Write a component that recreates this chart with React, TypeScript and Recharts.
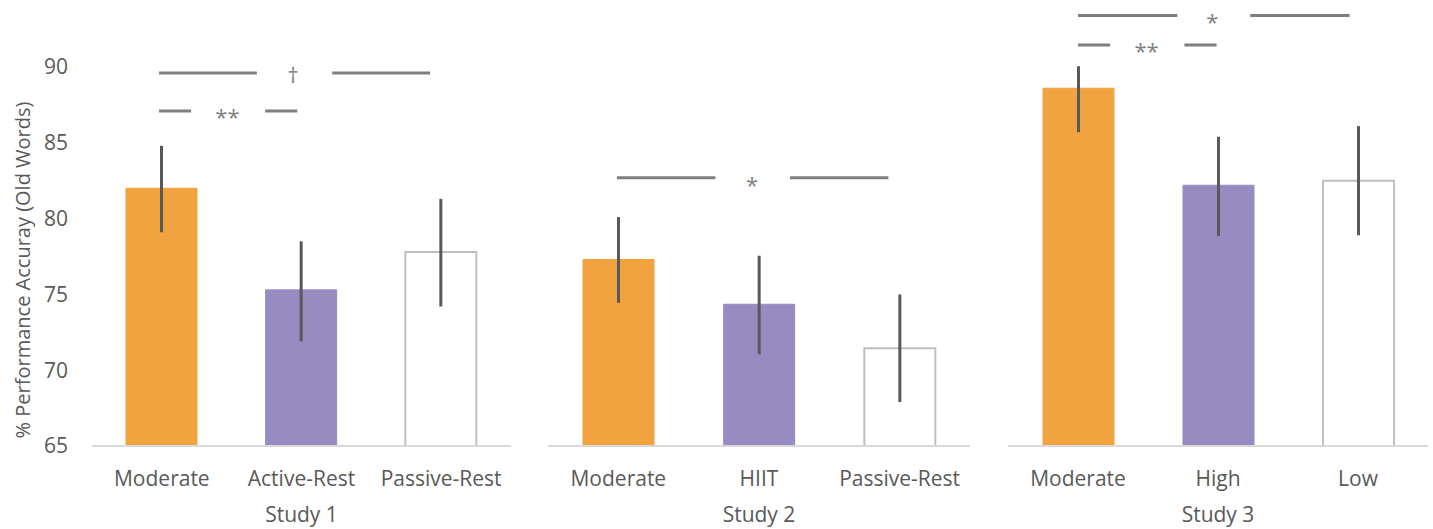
import { ComposedChart, Bar, Cell, ErrorBar, XAxis, YAxis, ReferenceLine, ReferenceDot } from "recharts";

// accuracy values
const studyNames = ["Study 1", "Study 2", "Study 3"];

const study1Conditions = ["Moderate", "Active-Rest", "Passive-Rest"];
const study1Means = [82.0, 75.3, 77.8];
const study1Upper = [84.8, 78.5, 81.3];
const study1Lower = [79.1, 71.9, 74.2];

const study2Conditions = ["Moderate", "HIIT", "Passive-Rest"];
const study2Means = [77.3, 74.35, 71.45];
const study2Upper = [80.1, 77.55, 75.0];
const study2Lower = [74.45, 71.05, 67.9];

const study3Conditions = ["Moderate", "High", "Low"];
const study3Means = [88.6, 82.2, 82.5];
const study3Upper = [90.05, 85.4, 86.1];
const study3Lower = [85.7, 78.85, 78.9];

const yTicks = [65, 70, 75, 80, 85, 90];

// significance brackets: x in category units (0..3), y in accuracy units
type Bracket = { y: number; segments: number[][]; mark: string; markX: number };
const study1Brackets: Bracket[] = [
  { y: 89.6, segments: [[0.48, 1.18], [1.72, 2.42]], mark: "†", markX: 1.44 },
  { y: 87.1, segments: [[0.48, 0.71], [1.24, 1.47]], mark: "**", markX: 0.97 },
];
const study2Brackets: Bracket[] = [
  { y: 82.7, segments: [[0.49, 1.19], [1.72, 2.42]], mark: "*", markX: 1.45 },
];
const study3Brackets: Bracket[] = [
  { y: 93.4, segments: [[0.5, 1.21], [1.73, 2.44]], mark: "*", markX: 1.46 },
  { y: 91.45, segments: [[0.5, 0.73], [1.26, 1.49]], mark: "**", markX: 0.99 },
];

const FILLS = ["#F0A33F", "#988BC1", "#FFFFFF"];
const STROKES = ["#F0A33F", "#988BC1", "#BFBFBF"];
const TEXT = "#595959";
const FONT = "'Open Sans', sans-serif";
const markOffset: Record<string, number> = { "*": 15, "**": 14, "†": 10 };

function buildRows(conditions: string[], means: number[], upper: number[], lower: number[]) {
  return conditions.map((c, i) => ({
    condition: c,
    slot: i + 0.5,
    mean: means[i],
    err: [means[i] - lower[i], upper[i] - means[i]],
  }));
}

interface PanelProps {
  title: string;
  rows: { condition: string; slot: number; mean: number; err: number[] }[];
  brackets: Bracket[];
  left: number;
  width: number;
  showAxis?: boolean;
  marginRight?: number;
}

function Panel({ title, rows, brackets, left, width, showAxis = false, marginRight = 0 }: PanelProps) {
  return (
    <div style={{ position: "absolute", left, top: 0 }}>
      <ComposedChart width={width} height={529} data={rows} margin={{ top: 67, right: marginRight, bottom: 0, left: 0 }}>
        <XAxis
          xAxisId="cat"
          dataKey="condition"
          height={83}
          axisLine={{ stroke: "#D9D9D9", strokeWidth: 2 }}
          tickLine={false}
          tickMargin={19}
          tick={{ fill: TEXT, fontSize: 21, fontFamily: FONT }}
          interval={0}
          label={{ value: title, position: "insideBottom", offset: 7, fill: TEXT, fontSize: 21, fontFamily: FONT }}
        />
        <XAxis xAxisId="pos" dataKey="slot" type="number" scale="linear" domain={[0, 3]} allowDataOverflow hide />
        <YAxis
          hide={!showAxis}
          width={92}
          domain={[65, 90]}
          ticks={yTicks}
          allowDataOverflow
          axisLine={false}
          tickLine={false}
          tickMargin={18}
          tick={{ fill: TEXT, fontSize: 21, fontFamily: FONT }}
          label={{
            value: "% Performance Accuray (Old Words)",
            content: () => (
              <text x={22} y={270} transform="rotate(-90 22 270)" textAnchor="middle" dominantBaseline="central" fill={TEXT} fontSize={20} fontFamily={FONT}>
                % Performance Accuray (Old Words)
              </text>
            ),
          }}
        />
        <Bar xAxisId="cat" dataKey="mean" barSize={71} isAnimationActive={false}>
          {rows.map((r, i) => (
            <Cell key={r.condition} fill={FILLS[i]} stroke={STROKES[i]} strokeWidth={i === 2 ? 2 : 1} />
          ))}
          <ErrorBar dataKey="err" width={0} stroke="#595959" strokeWidth={3} isAnimationActive={false} />
        </Bar>
        {brackets.map((b, bi) =>
          b.segments.map((s, si) => (
            <ReferenceLine
              key={`l${bi}-${si}`}
              xAxisId="pos"
              segment={[{ x: s[0], y: b.y }, { x: s[1], y: b.y }]}
              stroke="#7F7F7F"
              strokeWidth={3}
              ifOverflow="visible"
            />
          ))
        )}
        {brackets.map((b, bi) => (
          <ReferenceDot
            key={`m${bi}`}
            xAxisId="pos"
            x={b.markX}
            y={b.y}
            r={0}
            fill="none"
            stroke="none"
            ifOverflow="visible"
            label={{
              value: b.mark,
              content: (p: any) => {
                const vb = p.viewBox || { x: 0, y: 0, width: 0, height: 0 };
                return (
                  <text x={vb.x + vb.width / 2} y={vb.y + vb.height / 2 + markOffset[b.mark]} textAnchor="middle" fill="#7F7F7F" fontSize={22} fontFamily={FONT}>
                    {b.mark}
                  </text>
                );
              },
            }}
          />
        ))}
      </ComposedChart>
    </div>
  );
}

export default function App() {
  return (
    <div style={{ position: "absolute", left: 0, top: 0, width: 1433, height: 529, background: "#FFFFFF", fontFamily: FONT }}>
      <Panel title={studyNames[0]} rows={buildRows(study1Conditions, study1Means, study1Upper, study1Lower)} brackets={study1Brackets} left={0} width={511} showAxis />
      <Panel title={studyNames[1]} rows={buildRows(study2Conditions, study2Means, study2Upper, study2Lower)} brackets={study2Brackets} left={548} width={422} />
      <Panel title={studyNames[2]} rows={buildRows(study3Conditions, study3Means, study3Upper, study3Lower)} brackets={study3Brackets} left={1008} width={425} marginRight={5} />
    </div>
  );
}
